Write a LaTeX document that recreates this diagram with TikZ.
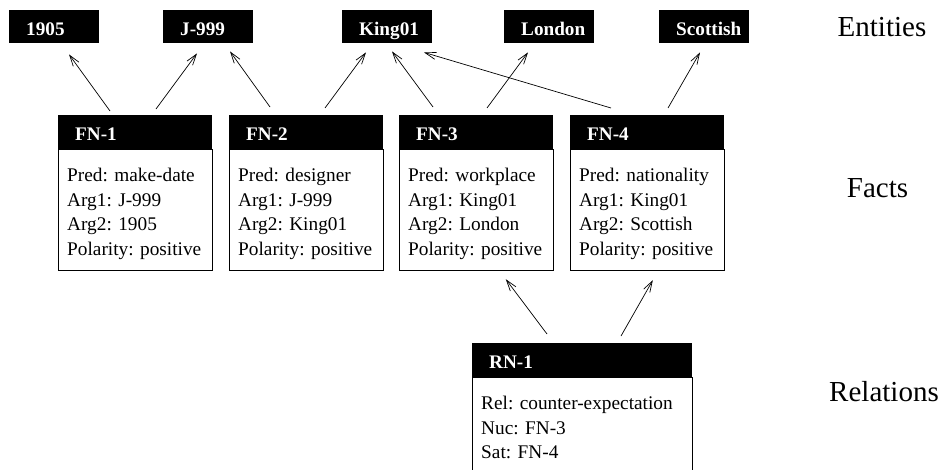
\documentclass[tikz,border=0pt]{standalone}
\usepackage{fontspec}
\setmainfont{Liberation Serif}
\usetikzlibrary{positioning,arrows.meta}

\begin{document}
\frenchspacing
\begin{tikzpicture}[x=1pt,y=-1pt,
    entity/.style={anchor=north west,fill=black,text=white,
      font=\fontsize{19.2}{23}\selectfont\bfseries,inner xsep=0pt,inner ysep=0pt,
      text width=90pt,align=left,text height=25pt,text depth=8pt,
      execute at begin node={\hspace*{17pt}}},
    fhead/.style={anchor=north west,fill=black,text=white,
      font=\fontsize{19.2}{23}\selectfont\bfseries,inner xsep=17pt,inner ysep=0pt,
      text width=120pt,align=left,text height=25.7pt,text depth=8.3pt},
    fbody/.style={draw=black,line width=0.8pt,
      font={\fontsize{19.3}{24.5}\selectfont\frenchspacing\hyphenpenalty10000},
      inner xsep=9pt,inner ysep=0pt,text width=136pt,align=left,
      text height=32pt,text depth=89pt},
    layer/.style={anchor=base,font=\fontsize{29}{34}\selectfont},
    link/.style={-{Straight Barb[length=11pt,width=7pt]},line width=0.7pt}]
    \useasboundingbox (0,0) rectangle (941,469);
    % entities
    \node[entity] (e1905) at (9,10) {1905};
    \node[entity] (ej999) at (163,10) {J-999};
    \node[entity] (eking) at (342,10) {King01};
    \node[entity] (elondon) at (504,10) {London};
    \node[entity] (escottish) at (659,10) {Scottish};
    % facts
    \node[fhead] (fn1) at (58,115) {FN-1};
    \node[fbody,below=0pt of fn1] (fn1b)
    {Pred: make-date\\Arg1: J-999\\Arg2: 1905\\Polarity: positive};
    \node[fhead] (fn2) at (229,115) {FN-2};
    \node[fbody,below=0pt of fn2] (fn2b)
    {Pred: designer\\Arg1: J-999\\Arg2: King01\\Polarity: positive};
    \node[fhead] (fn3) at (399,115) {FN-3};
    \node[fbody,below=0pt of fn3] (fn3b)
    {Pred: workplace\\Arg1: King01\\Arg2: London\\Polarity: positive};
    \node[fhead] (fn4) at (570,115) {FN-4};
    \node[fbody,below=0pt of fn4] (fn4b)
    {Pred: nationality\\Arg1: King01\\Arg2: Scottish\\Polarity: positive};
    % relations
    \node[fhead,text width=186pt] (rn1) at (472,343) {RN-1};
    \node[fbody,text width=202pt,text depth=120pt,below=0pt of rn1] (rn1b)
    {Rel: counter-expectation\\Nuc: FN-3\\Sat: FN-4};
    % layer names
    \node[layer] (lent) at (882,36) {Entities};
    \node[layer] (lfact) at (877.5,197) {Facts};
    \node[layer] (lrel) at (884,401) {Relations};
    % arrows
    \draw[link] ([shift={(52,-4)}]fn1.north west) -- ([shift={(60,11)}]e1905.south west);
    \draw[link] ([shift={(98,-6)}]fn1.north west) -- ([shift={(34,10)}]ej999.south west);
    \draw[link] ([shift={(41,-8)}]fn2.north west) -- ([shift={(67,8)}]ej999.south west);
    \draw[link] ([shift={(96,-7)}]fn2.north west) -- ([shift={(24,9)}]eking.south west);
    \draw[link] ([shift={(34,-8)}]fn3.north west) -- ([shift={(50,8)}]eking.south west);
    \draw[link] ([shift={(41,-7)}]fn4.north west) -- ([shift={(82,9)}]eking.south west);
    \draw[link] ([shift={(88,-7)}]fn3.north west) -- ([shift={(24,9)}]elondon.south west);
    \draw[link] ([shift={(98,-7)}]fn4.north west) -- ([shift={(41,9)}]escottish.south west);
    \draw[link] ([shift={(75,-9)}]rn1.north west) -- ([shift={(107,8)}]fn3b.south west);
    \draw[link] ([shift={(149,-7)}]rn1.north west) -- ([shift={(83,9)}]fn4b.south west);
\end{tikzpicture}
\end{document}
